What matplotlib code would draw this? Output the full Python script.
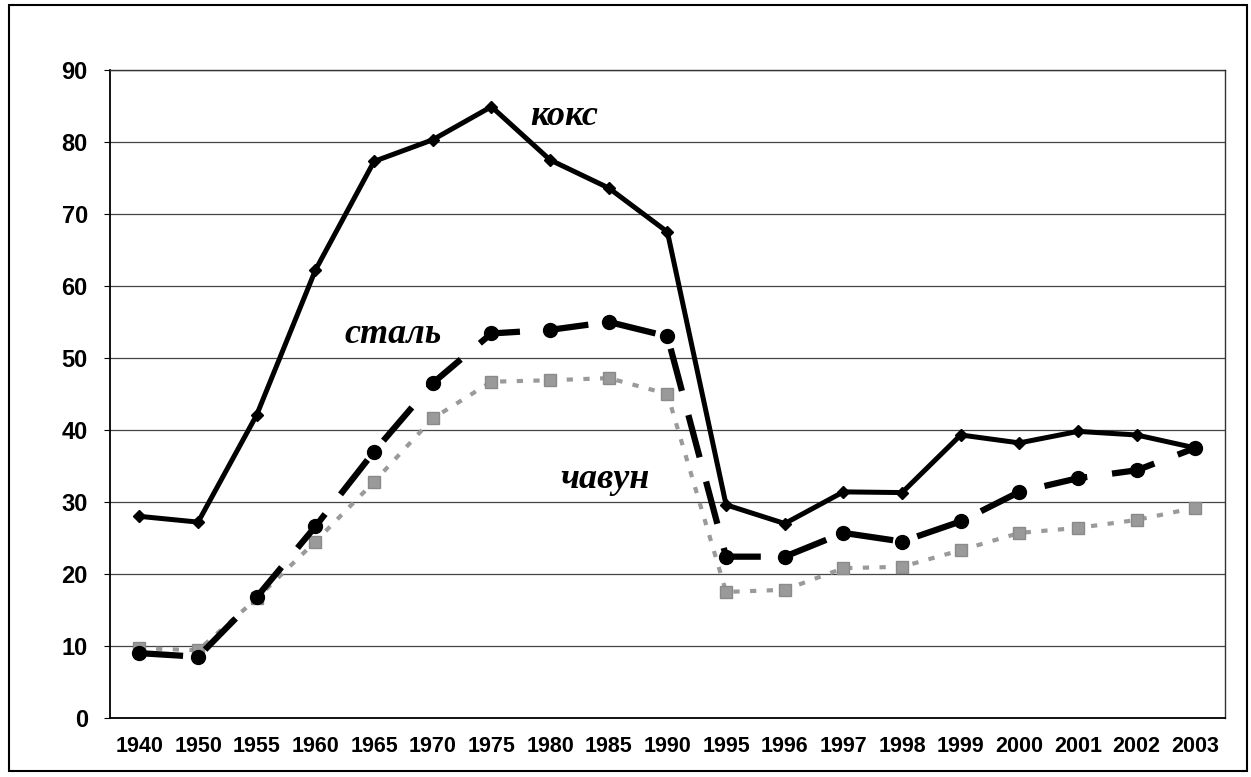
import matplotlib
matplotlib.use("Agg")
import matplotlib.pyplot as plt
from matplotlib.patches import Rectangle

years = ["1940", "1950", "1955", "1960", "1965", "1970", "1975", "1980", "1985", "1990",
         "1995", "1996", "1997", "1998", "1999", "2000", "2001", "2002", "2003"]
koks = [28.0, 27.2, 42.1, 62.2, 77.3, 80.3, 84.9, 77.5, 73.6, 67.5,
        29.6, 27.0, 31.4, 31.3, 39.3, 38.2, 39.8, 39.3, 37.5]
stal = [9.0, 8.5, 16.8, 26.6, 37.0, 46.5, 53.4, 53.9, 55.0, 53.0,
        22.4, 22.4, 25.7, 24.5, 27.3, 31.4, 33.3, 34.4, 37.5]
chavun = [9.7, 9.4, 16.6, 24.5, 32.8, 41.6, 46.7, 46.9, 47.2, 45.0,
          17.5, 17.8, 20.8, 21.0, 23.3, 25.7, 26.4, 27.5, 29.2]

fig = plt.figure(figsize=(12.51, 7.77), dpi=100)
ax = fig.add_axes([0.088, 0.076, 0.891, 0.834])

x = range(len(years))

# сітка
ax.set_axisbelow(True)
ax.yaxis.grid(True, color="#444444", linewidth=0.9)

# чавун - сірий пунктир
ax.plot(x, chavun, color="#9a9a9a", linewidth=3, linestyle=(0, (1.5, 2.5)),
        marker="s", markersize=8, markeredgecolor="#8a8a8a", zorder=3)
# сталь - штрих
ax.plot(x, stal, color="black", linewidth=4.5, linestyle=(0, (7, 4)),
        marker="o", markersize=10, zorder=4)
# кокс - суцільна
ax.plot(x, koks, color="black", linewidth=3.6, linestyle="-",
        marker="D", markersize=6, zorder=5)

ax.set_xlim(-0.5, len(years) - 0.5)
ax.set_ylim(0, 90)
ax.set_yticks(range(0, 91, 10))
ax.set_xticks(list(x))
ax.set_xticklabels(years)

for label in ax.get_xticklabels():
    label.set_fontfamily("Liberation Sans")
    label.set_fontweight("bold")
    label.set_fontsize(15.5)
for label in ax.get_yticklabels():
    label.set_fontfamily("Liberation Sans")
    label.set_fontweight("bold")
    label.set_fontsize(17)

ax.tick_params(axis="x", length=0, pad=13)
ax.tick_params(axis="y", length=4, pad=12)

for side in ["left", "bottom"]:
    ax.spines[side].set_color("black")
    ax.spines[side].set_linewidth(1.3)
for side in ["top", "right"]:
    ax.spines[side].set_color("#333333")
    ax.spines[side].set_linewidth(1.0)

# підписи серій
font = dict(family="Liberation Serif", style="italic", fontweight="bold", fontsize=26)
ax.text(6.66, 82.4, "кокс", **font)
ax.text(3.5, 52.1, "сталь", **font)
ax.text(7.17, 31.9, "чавун", **font)

# рамка навколо всього рисунка
fig.patches.append(Rectangle((0.007, 0.008), 0.99, 0.985, transform=fig.transFigure,
                             fill=False, edgecolor="black", linewidth=1.5))

plt.savefig("out.png", dpi=100)
